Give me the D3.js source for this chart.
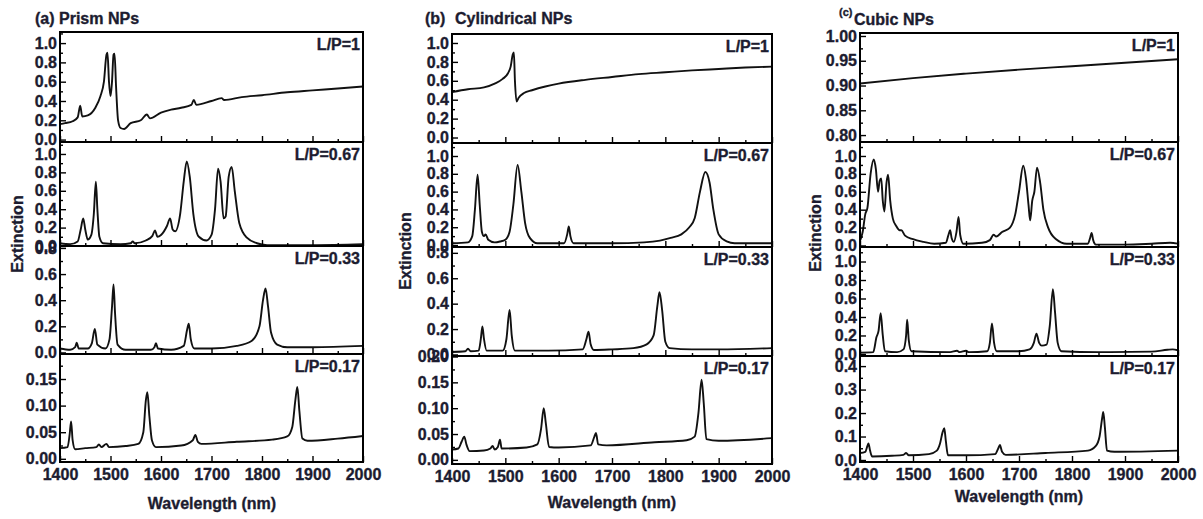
<!DOCTYPE html>
<html>
<head>
<meta charset="utf-8">
<script src="https://cdn.jsdelivr.net/npm/d3@7"></script>
<style>
  body { margin: 0; background: #fff; }
  svg text { font-family: "Liberation Sans", Arial, sans-serif; font-weight: bold; font-size: 16px; fill: #1c1c30; stroke: #1c1c30; stroke-width: 0.35px; }
</style>
</head>
<body>
<svg id="chart" width="1203" height="519"></svg>
<script>
// x axis
var wlTicks = [1400, 1500, 1600, 1700, 1800, 1900, 2000];
var wlMinor = [1450, 1550, 1650, 1750, 1850, 1950];
var lpLabels = ["L/P=1", "L/P=0.67", "L/P=0.33", "L/P=0.17"];

// (a) prism NPs  [wavelength nm, extinction]
var prismLP1 = [[1400,0.16],[1410,0.17],[1425,0.19],[1435,0.23],[1440,0.35],[1444,0.24],[1455,0.25],[1470,0.33],[1480,0.45],[1487,0.6],[1492,0.88],[1494,0.9],[1497,0.6],[1500,0.45],[1503,0.6],[1506,0.88],[1508,0.89],[1511,0.55],[1515,0.2],[1520,0.12],[1527,0.11],[1540,0.17],[1560,0.2],[1572,0.26],[1578,0.22],[1600,0.28],[1620,0.31],[1640,0.33],[1660,0.36],[1665,0.41],[1670,0.36],[1700,0.4],[1720,0.43],[1725,0.41],[1760,0.44],[1800,0.46],[1850,0.49],[1900,0.51],[1950,0.53],[2000,0.55]];
var prismLP067 = [[1400,0.03],[1420,0.02],[1435,0.05],[1441,0.18],[1446,0.30],[1450,0.18],[1455,0.07],[1462,0.12],[1467,0.35],[1471,0.70],[1474,0.4],[1478,0.1],[1485,0.03],[1520,0.02],[1540,0.03],[1544,0.05],[1548,0.03],[1570,0.06],[1583,0.11],[1588,0.17],[1593,0.1],[1600,0.12],[1612,0.22],[1618,0.30],[1623,0.18],[1628,0.16],[1638,0.35],[1645,0.7],[1651,0.92],[1657,0.75],[1664,0.35],[1675,0.1],[1690,0.06],[1700,0.12],[1707,0.4],[1713,0.84],[1718,0.7],[1724,0.3],[1728,0.32],[1734,0.75],[1740,0.86],[1746,0.6],[1755,0.25],[1770,0.09],[1790,0.03],[1810,0.01],[1900,0.01],[2000,0.02]];
var prismLP033 = [[1400,0.03],[1420,0.02],[1430,0.04],[1433,0.075],[1437,0.03],[1455,0.03],[1463,0.07],[1469,0.18],[1474,0.06],[1490,0.03],[1498,0.1],[1503,0.35],[1506,0.52],[1509,0.3],[1514,0.06],[1530,0.02],[1580,0.02],[1587,0.04],[1590,0.07],[1594,0.03],[1620,0.02],[1645,0.05],[1652,0.18],[1655,0.22],[1659,0.1],[1666,0.03],[1700,0.03],[1750,0.05],[1780,0.09],[1795,0.2],[1802,0.4],[1807,0.49],[1812,0.35],[1818,0.15],[1830,0.06],[1850,0.04],[1900,0.04],[2000,0.05]];
var prismLP017 = [[1400,0.02],[1415,0.022],[1419,0.045],[1422,0.07],[1425,0.035],[1430,0.018],[1450,0.02],[1472,0.022],[1477,0.027],[1482,0.022],[1492,0.028],[1497,0.022],[1530,0.024],[1555,0.028],[1565,0.05],[1570,0.11],[1573,0.125],[1577,0.08],[1582,0.035],[1590,0.022],[1640,0.025],[1663,0.035],[1668,0.045],[1673,0.032],[1680,0.028],[1750,0.032],[1820,0.036],[1850,0.042],[1860,0.06],[1866,0.11],[1870,0.135],[1874,0.09],[1880,0.038],[1890,0.034],[1950,0.038],[2000,0.043]];

// (b) cylindrical NPs
var cylLP1 = [[1400,0.48],[1430,0.51],[1460,0.53],[1480,0.57],[1495,0.62],[1505,0.68],[1510,0.75],[1514,0.88],[1516,0.9],[1518,0.6],[1521,0.38],[1525,0.42],[1535,0.47],[1550,0.5],[1575,0.54],[1600,0.57],[1650,0.61],[1700,0.64],[1750,0.67],[1800,0.69],[1850,0.71],[1900,0.725],[1950,0.74],[2000,0.75]];
var cylLP067 = [[1400,0.02],[1430,0.03],[1438,0.1],[1443,0.4],[1448,0.79],[1452,0.45],[1456,0.15],[1460,0.1],[1463,0.12],[1468,0.06],[1480,0.03],[1490,0.04],[1500,0.06],[1508,0.15],[1515,0.45],[1523,0.9],[1530,0.6],[1537,0.25],[1546,0.08],[1560,0.02],[1610,0.02],[1616,0.12],[1619,0.21],[1622,0.1],[1628,0.02],[1700,0.02],[1760,0.03],[1790,0.05],[1810,0.08],[1830,0.12],[1845,0.2],[1855,0.3],[1865,0.6],[1875,0.82],[1883,0.7],[1890,0.4],[1900,0.12],[1915,0.04],[1930,0.02],[2000,0.02]];
var cylLP033 = [[1400,0.02],[1425,0.025],[1430,0.045],[1435,0.025],[1450,0.03],[1454,0.12],[1457,0.22],[1460,0.12],[1465,0.03],[1495,0.03],[1502,0.12],[1508,0.35],[1512,0.15],[1518,0.03],[1580,0.03],[1645,0.04],[1652,0.12],[1656,0.18],[1660,0.08],[1666,0.035],[1700,0.04],[1740,0.05],[1765,0.08],[1778,0.15],[1785,0.38],[1789,0.49],[1794,0.35],[1800,0.1],[1808,0.05],[1850,0.04],[1900,0.04],[2000,0.05]];
var cylLP017 = [[1400,0.02],[1412,0.022],[1418,0.035],[1423,0.045],[1427,0.03],[1433,0.017],[1460,0.018],[1472,0.022],[1476,0.027],[1480,0.02],[1486,0.025],[1490,0.039],[1493,0.022],[1540,0.024],[1560,0.03],[1567,0.06],[1572,0.1],[1576,0.07],[1582,0.025],[1600,0.024],[1660,0.028],[1667,0.045],[1670,0.052],[1674,0.03],[1690,0.028],[1780,0.034],[1840,0.038],[1855,0.045],[1862,0.09],[1868,0.155],[1872,0.11],[1877,0.04],[1900,0.037],[2000,0.042]];

// (c) cubic NPs
var cubicLP1 = [[1400,0.904],[1500,0.915],[1600,0.924],[1700,0.932],[1800,0.939],[1900,0.946],[2000,0.953]];
var cubicLP067 = [[1400,0.05],[1405,0.15],[1410,0.35],[1414,0.42],[1420,0.8],[1426,0.96],[1430,0.85],[1434,0.6],[1437,0.72],[1440,0.75],[1443,0.5],[1446,0.38],[1450,0.7],[1453,0.79],[1457,0.5],[1462,0.3],[1468,0.22],[1475,0.17],[1478,0.17],[1485,0.11],[1500,0.07],[1520,0.04],[1540,0.02],[1562,0.03],[1567,0.12],[1570,0.17],[1573,0.08],[1577,0.04],[1582,0.15],[1586,0.32],[1589,0.12],[1595,0.02],[1630,0.03],[1645,0.06],[1652,0.12],[1657,0.1],[1668,0.15],[1683,0.2],[1693,0.35],[1700,0.6],[1708,0.89],[1713,0.75],[1718,0.45],[1721,0.28],[1725,0.5],[1729,0.6],[1734,0.87],[1740,0.7],[1746,0.4],[1755,0.2],[1770,0.07],[1790,0.02],[1830,0.02],[1834,0.08],[1837,0.14],[1840,0.06],[1845,0.01],[1900,0.01],[1950,0.02],[1985,0.03],[2000,0.02]];
var cubicLP033 = [[1400,0.015],[1425,0.02],[1431,0.18],[1435,0.25],[1439,0.44],[1443,0.2],[1447,0.03],[1470,0.02],[1482,0.05],[1487,0.2],[1489,0.37],[1492,0.15],[1497,0.03],[1570,0.02],[1583,0.035],[1588,0.02],[1600,0.035],[1605,0.02],[1640,0.03],[1645,0.12],[1649,0.33],[1653,0.12],[1658,0.03],[1700,0.03],[1720,0.05],[1728,0.12],[1733,0.22],[1738,0.12],[1743,0.09],[1752,0.1],[1758,0.3],[1764,0.7],[1768,0.45],[1773,0.12],[1780,0.03],[1850,0.02],[1950,0.025],[1980,0.045],[1990,0.05],[2000,0.04]];
var cubicLP017 = [[1400,0.03],[1410,0.035],[1414,0.06],[1416,0.07],[1419,0.04],[1423,0.015],[1460,0.018],[1482,0.022],[1487,0.03],[1492,0.02],[1530,0.025],[1545,0.04],[1551,0.07],[1556,0.12],[1559,0.135],[1562,0.08],[1566,0.02],[1600,0.02],[1655,0.025],[1661,0.05],[1664,0.064],[1668,0.035],[1675,0.022],[1750,0.03],[1830,0.04],[1845,0.06],[1852,0.1],[1857,0.18],[1859,0.205],[1862,0.14],[1866,0.04],[1880,0.035],[2000,0.04]];

// y tick values
var ticks10 = [0, 0.2, 0.4, 0.6, 0.8, 1.0];
var minor10 = [0.1, 0.3, 0.5, 0.7, 0.9, 1.1];
var ticks08 = [0, 0.2, 0.4, 0.6, 0.8];
var ticksSmall = [0, 0.05, 0.10, 0.15, 0.20];
var minorSmall = [0.025, 0.075, 0.125, 0.175];
var ticksCubic1 = [0.80, 0.85, 0.90, 0.95, 1.00];
var minorCubic1 = [0.825, 0.875, 0.925, 0.975];
var ticksCubic4 = [0, 0.1, 0.2, 0.3, 0.4];
var minorCubic4 = [0.05, 0.15, 0.25, 0.35];

var columns = [
  { left: 60, right: 363, edges: [32, 142, 246, 354, 462],
    series: [prismLP1, prismLP067, prismLP033, prismLP017],
    domains: [[-0.025, 1.115], [0, 1.13], [-0.012, 0.815], [-0.006, 0.197]],
    ticks: [ticks10, ticks10, ticks08, ticksSmall], minor: [minor10, minor10, minor10, minorSmall],
    fmt: [".1f", ".1f", ".1f", ".2f"],
    ylab: [17, 234], xlab: [212, 509] },
  { left: 452, right: 772, edges: [34, 143, 247, 356, 464],
    series: [cylLP1, cylLP067, cylLP033, cylLP017],
    domains: [[-0.058, 1.095], [-0.022, 1.146], [-0.012, 0.846], [-0.008, 0.201]],
    ticks: [ticks10, ticks10, ticks08, ticksSmall], minor: [minor10, minor10, minor10, minorSmall],
    fmt: [".1f", ".1f", ".1f", ".2f"],
    ylab: [405, 251], xlab: [612, 508] },
  { left: 860, right: 1178, edges: [33, 142, 247, 356, 462],
    series: [cubicLP1, cubicLP067, cubicLP033, cubicLP017],
    domains: [[0.786, 1.006], [-0.017, 1.156], [-0.022, 1.157], [-0.0085, 0.443]],
    ticks: [ticksCubic1, ticks10, ticks10, ticksCubic4], minor: [minorCubic1, minor10, minor10, minorCubic4],
    fmt: [".2f", ".1f", ".1f", ".1f"],
    ylab: [815, 233], xlab: [1019, 502] }
];

var svg = d3.select("#chart");

function styleAxis(sel) {
  sel.select(".domain").remove();
  sel.selectAll(".tick line").attr("stroke", "#000").attr("stroke-width", 1.4);
}

columns.forEach(function(col, ci) {
  var x = d3.scaleLinear().domain([1400, 2000]).range([col.left, col.right]);

  col.series.forEach(function(data, i) {
    var top = col.edges[i], bottom = col.edges[i + 1];
    var y = d3.scaleLinear().domain(col.domains[i]).range([bottom, top]);
    var g = svg.append("g");
    var clipId = "clip" + ci + "_" + i;

    g.append("clipPath").attr("id", clipId)
      .append("rect")
      .attr("x", col.left).attr("y", top)
      .attr("width", col.right - col.left).attr("height", bottom - top);

    var line = d3.line()
      .x(function(d) { return x(d[0]); })
      .y(function(d) { return y(d[1]); })
      .curve(d3.curveMonotoneX);

    g.append("path")
      .datum(data)
      .attr("clip-path", "url(#" + clipId + ")")
      .attr("d", line)
      .attr("fill", "none")
      .attr("stroke", "#111")
      .attr("stroke-width", 1.9)
      .attr("stroke-linejoin", "round");

    // y axis (ticks inward)
    var dom = col.domains[i];
    var inDom = function(v) { return v >= dom[0] && v <= dom[1]; };
    g.append("g")
      .attr("transform", "translate(" + col.left + ",0)")
      .call(d3.axisLeft(y).tickValues(col.ticks[i].filter(inDom))
        .tickFormat(d3.format(col.fmt[i]))
        .tickSizeInner(-6).tickSizeOuter(0).tickPadding(3))
      .call(styleAxis);
    g.append("g")
      .attr("transform", "translate(" + col.left + ",0)")
      .call(d3.axisLeft(y).tickValues(col.minor[i].filter(inDom))
        .tickFormat("").tickSizeInner(-3).tickSizeOuter(0))
      .call(styleAxis);

    // x axis at bottom of each row
    g.append("g")
      .attr("transform", "translate(0," + bottom + ")")
      .call(d3.axisBottom(x).tickValues(wlTicks)
        .tickFormat(i == 3 ? d3.format("d") : "")
        .tickSizeInner(-6).tickSizeOuter(0).tickPadding(7))
      .call(styleAxis);
    g.append("g")
      .attr("transform", "translate(0," + bottom + ")")
      .call(d3.axisBottom(x).tickValues(wlMinor)
        .tickFormat("").tickSizeInner(-3).tickSizeOuter(0))
      .call(styleAxis);

    g.append("rect")
      .attr("x", col.left).attr("y", top)
      .attr("width", col.right - col.left).attr("height", bottom - top)
      .attr("fill", "none").attr("stroke", "#000").attr("stroke-width", 2);

    g.append("text")
      .attr("x", col.right - 3).attr("y", top + 18)
      .attr("text-anchor", "end")
      .text(lpLabels[i]);
  });

  svg.append("text")
    .attr("transform", "translate(" + col.ylab[0] + "," + col.ylab[1] + ") rotate(-90)")
    .attr("text-anchor", "middle")
    .attr("dominant-baseline", "central")
    .text("Extinction");

  svg.append("text")
    .attr("x", col.xlab[0]).attr("y", col.xlab[1])
    .attr("text-anchor", "middle")
    .text("Wavelength (nm)");
});

// panel titles
svg.append("text").attr("x", 35).attr("y", 24).text("(a) Prism NPs");
svg.append("text").attr("x", 425).attr("y", 24).text("(b)");
svg.append("text").attr("x", 455).attr("y", 24).text("Cylindrical NPs");
svg.append("text").attr("x", 839).attr("y", 16).style("font-size", "11px").text("(c)");
svg.append("text").attr("x", 854).attr("y", 25).text("Cubic NPs");
</script>
</body>
</html>
